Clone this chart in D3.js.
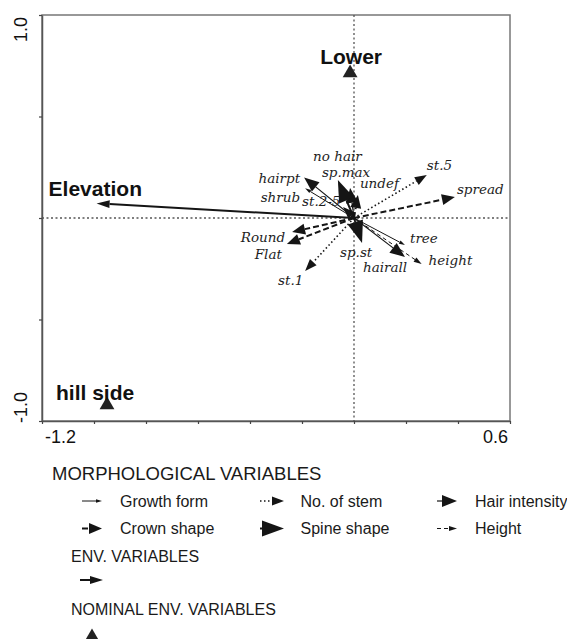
<!DOCTYPE html>
<html>
<head>
<meta charset="utf-8">
<script src="https://cdn.jsdelivr.net/npm/d3@7"></script>
<style>
  body { margin: 0; background: #fff; }
  svg { display: block; }
</style>
</head>
<body>
<svg id="chart" width="567" height="639"></svg>
<script>
// morphological variables: name, group, axis 1, axis 2
const morphNames = ['shrub', 'tree', 'height', 'st.5', 'st.1', 'st.2-5', 'hairpt', 'no hair', 'hairall', 'sp.max', 'sp.st', 'spread', 'Round', 'Flat', 'undef']
const morphGroups = ['growth', 'growth', 'height', 'stem', 'stem', 'stem', 'hair', 'hair', 'hair', 'spine', 'spine', 'crown', 'crown', 'crown', 'crown']
const morphX = [-0.188, 0.196, 0.26, 0.28, -0.188, -0.042, -0.192, -0.015, 0.196, -0.062, 0.031, 0.388, -0.238, -0.258, 0.015]
const morphY = [0.146, -0.133, -0.227, 0.212, -0.261, 0.054, 0.20, 0.148, -0.192, 0.187, -0.123, 0.103, -0.069, -0.128, 0.113]

// environmental variable (arrow) and nominal env. variables (points)
const envNames = ['Elevation']
const envX = [-0.99]
const envY = [0.072]
const nominalNames = ['Lower', 'hill side']
const nominalX = [-0.015, -0.95]
const nominalY = [0.714, -0.921]

const xTicks = [-1.2, -1.0, -0.8, -0.6, -0.4, -0.2, 0, 0.2, 0.4, 0.6]
const yTicks = [-1, -0.5, 0, 0.5, 1]
const xTickLabels = ['-1.2', '0.6']
const yTickLabels = ['1.0', '-1.0']

const legendRow1 = [['growth', 'Growth form'], ['stem', 'No. of stem'], ['hair', 'Hair intensity']]
const legendRow2 = [['crown', 'Crown shape'], ['spine', 'Spine shape'], ['height', 'Height']]

// line style per group
const styles = {
  growth: { width: 1, dash: null, head: 6, half: 1.8 },
  height: { width: 1, dash: '4,3', head: 8, half: 2.5 },
  stem:   { width: 1.6, dash: '1.5,2.5', head: 12, half: 4.5 },
  hair:   { width: 1.2, dash: null, head: 15, half: 6 },
  spine:  { width: 2, dash: null, head: 22, half: 8 },
  crown:  { width: 2, dash: '6,3', head: 13, half: 5.5 },
  env:    { width: 2, dash: null, head: 13, half: 4 }
}

// label offsets from arrow tip in pixels
const labelPos = {
  'shrub':   [-5, 14, 'end'],
  'tree':    [5, -2, 'start'],
  'height':  [7, 1, 'start'],
  'st.5':    [0, -5, 'start'],
  'st.1':    [-27, 14, 'start'],
  'st.2-5':  [-41, -1, 'start'],
  'hairpt':  [-4, 6, 'end'],
  'no hair': [-37, -27, 'start'],
  'hairall': [-42, 15, 'start'],
  'sp.max':  [-16, -3, 'start'],
  'sp.st':   [-22, 14, 'start'],
  'spread':  [2, -3, 'start'],
  'Round':   [-7, 10, 'end'],
  'Flat':    [-5, 15, 'end'],
  'undef':   [2, -7, 'start']
}

const svg = d3.select('#chart')
const x = d3.scaleLinear().domain([-1.2, 0.6]).range([42, 510])
const y = d3.scaleLinear().domain([-1, 1]).range([421, 15])
const ink = '#151515'

function arrow (g, x0, y0, x1, y1, st) {
  const dx = x1 - x0, dy = y1 - y0
  const len = Math.hypot(dx, dy)
  const ux = dx / len, uy = dy / len
  const head = Math.min(st.head, len)
  const bx = x1 - ux * head, by = y1 - uy * head
  if (len > head) {
    g.append('line')
      .attr('x1', x0).attr('y1', y0).attr('x2', bx).attr('y2', by)
      .attr('stroke', ink)
      .attr('stroke-width', st.width)
      .attr('stroke-dasharray', st.dash)
  }
  g.append('path')
    .attr('d', d3.line()([[x1, y1], [bx - uy * st.half, by + ux * st.half], [bx + uy * st.half, by - ux * st.half]]) + 'Z')
    .attr('fill', ink)
}

// frame
svg.append('rect')
  .attr('x', x(-1.2)).attr('y', y(1))
  .attr('width', x(0.6) - x(-1.2)).attr('height', y(-1) - y(1))
  .attr('fill', 'none').attr('stroke', '#777').attr('stroke-width', 1.5)

const xAxis = svg.append('g')
  .attr('transform', `translate(0,${y(-1)})`)
  .call(d3.axisBottom(x).tickValues(xTicks).tickSize(3).tickSizeOuter(0).tickFormat(''))
const yAxis = svg.append('g')
  .attr('transform', `translate(${x(-1.2)},0)`)
  .call(d3.axisLeft(y).tickValues(yTicks).tickSize(3).tickSizeOuter(0).tickFormat(''))
;[xAxis, yAxis].forEach(a => {
  a.select('.domain').attr('stroke', '#555').attr('stroke-width', 1.5)
  a.selectAll('.tick line').attr('stroke', '#444').attr('stroke-width', 1.2)
})

// tick labels at the extremes
function tickText (t) {
  return svg.append('text').text(t)
    .attr('font-family', 'Liberation Sans, Arial, sans-serif')
    .attr('font-size', '18px').attr('fill', '#111')
}
tickText(xTickLabels[0])
  .attr('x', x(-1.2) + 3).attr('y', y(-1) + 22).attr('text-anchor', 'start')
tickText(xTickLabels[1])
  .attr('x', x(0.6) - 2).attr('y', y(-1) + 22).attr('text-anchor', 'end')
tickText(yTickLabels[0])
  .attr('transform', `translate(27,${y(1) + 2}) rotate(-90)`).attr('text-anchor', 'end')
tickText(yTickLabels[1])
  .attr('transform', `translate(27,${y(-1) + 2}) rotate(-90)`).attr('text-anchor', 'start')

// dotted zero lines
svg.append('line')
  .attr('x1', x(-1.2)).attr('x2', x(0.6)).attr('y1', y(0)).attr('y2', y(0))
  .attr('stroke', '#555').attr('stroke-width', 1.3).attr('stroke-dasharray', '2,2.5')
svg.append('line')
  .attr('x1', x(0)).attr('x2', x(0)).attr('y1', y(1)).attr('y2', y(-1))
  .attr('stroke', '#555').attr('stroke-width', 1.3).attr('stroke-dasharray', '2,2.5')

// morphological arrows
const morph = svg.append('g')
morphNames.forEach((name, i) => {
  arrow(morph, x(0), y(0), x(morphX[i]), y(morphY[i]), styles[morphGroups[i]])
})
morphNames.forEach((name, i) => {
  const p = labelPos[name]
  morph.append('text').text(name)
    .attr('x', x(morphX[i]) + p[0]).attr('y', y(morphY[i]) + p[1])
    .attr('text-anchor', p[2])
    .attr('font-family', 'DejaVu Serif, serif').attr('font-style', 'italic')
    .attr('font-size', '13.5px').attr('fill', '#1e1e1e')
})

// environmental arrow
envNames.forEach((name, i) => {
  arrow(svg, x(0), y(0), x(envX[i]), y(envY[i]), styles.env)
  svg.append('text').text(name)
    .attr('x', x(envX[i]) - 48).attr('y', y(envY[i]) - 7)
    .attr('font-family', 'Liberation Sans, Arial, sans-serif').attr('font-weight', 'bold')
    .attr('font-size', '21px').attr('fill', '#111')
})

// nominal env. variables
const tri = d3.symbol().type(d3.symbolTriangle).size(95)
const nominalLabel = { 'Lower': [1, -9, 'middle'], 'hill side': [-51, -5, 'start'] }
nominalNames.forEach((name, i) => {
  svg.append('path').attr('d', tri)
    .attr('transform', `translate(${x(nominalX[i])},${y(nominalY[i])})`)
    .attr('fill', '#222')
  const p = nominalLabel[name]
  svg.append('text').text(name)
    .attr('x', x(nominalX[i]) + p[0]).attr('y', y(nominalY[i]) + p[1])
    .attr('text-anchor', p[2])
    .attr('font-family', 'Liberation Sans, Arial, sans-serif').attr('font-weight', 'bold')
    .attr('font-size', '21px').attr('fill', '#111')
})

// legend
const legend = svg.append('g')
  .attr('font-family', 'Liberation Sans, Arial, sans-serif').attr('fill', '#1a1a1a')
legend.append('text').text('MORPHOLOGICAL VARIABLES')
  .attr('x', 52).attr('y', 480).attr('font-size', '18.5px')

const colSym = [[82, 102], [260, 284], [437, 457]]
const colText = [120, 300.5, 475]
;[legendRow1, legendRow2].forEach((row, r) => {
  const cy = 501 + r * 27.5
  row.forEach(([key, label], c) => {
    arrow(legend, colSym[c][0], cy, colSym[c][1], cy, styles[key])
    legend.append('text').text(label)
      .attr('x', colText[c]).attr('y', cy + 5.5).attr('font-size', '16px')
  })
})

legend.append('text').text('ENV. VARIABLES')
  .attr('x', 71).attr('y', 561.5).attr('font-size', '16px')
arrow(legend, 80, 580, 103, 580, styles.env)
legend.append('text').text('NOMINAL ENV. VARIABLES')
  .attr('x', 71).attr('y', 615).attr('font-size', '16px')
legend.append('path').attr('d', tri)
  .attr('transform', 'translate(92,637)')
  .attr('fill', '#222')
</script>
</body>
</html>
